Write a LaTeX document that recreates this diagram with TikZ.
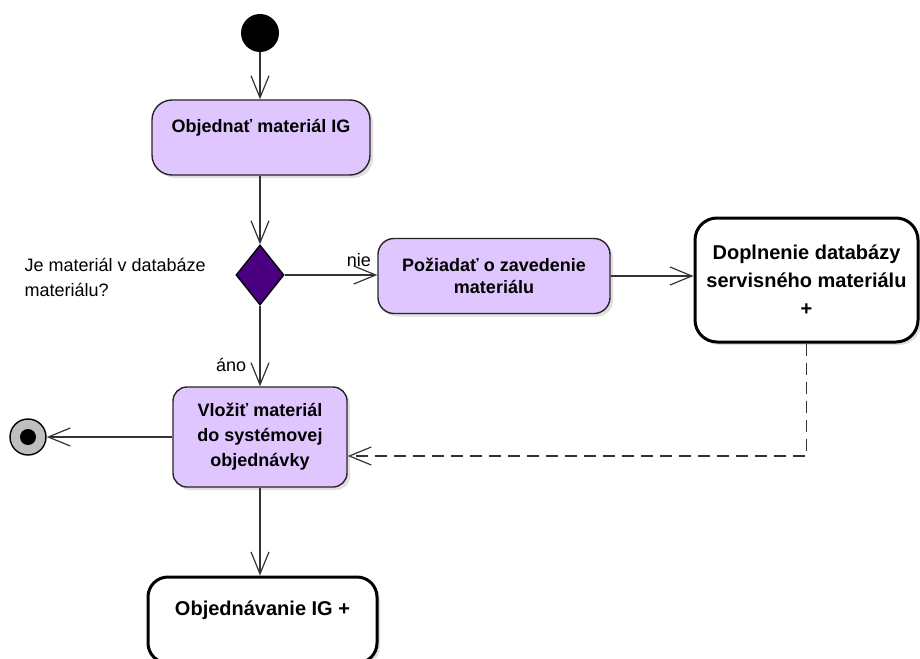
\documentclass[tikz,border=0pt]{standalone}
\usepackage{fontspec}
\setmainfont{Liberation Sans}
\usetikzlibrary{arrows.meta,shapes.geometric,shadows}
\definecolor{actfill}{RGB}{224,198,255}
\definecolor{decfill}{RGB}{75,0,130}
\begin{document}
\begin{tikzpicture}[x=1pt, y=-1pt,
  act/.style={rectangle, draw=black!85, line width=1.4pt, fill=actfill, rounded corners=16pt, align=center, font=\fontsize{18}{23}\selectfont\bfseries, drop shadow={shadow xshift=3pt, shadow yshift=-3pt, opacity=0.25}},
  sub/.style={rectangle, draw=black, line width=3pt, fill=white, rounded corners=22pt, align=center, font=\fontsize{20}{24}\selectfont\bfseries, drop shadow={shadow xshift=3pt, shadow yshift=-3pt, opacity=0.25}},
  decision/.style={diamond, draw=black, line width=1.4pt, fill=decfill, minimum width=48pt, minimum height=60pt, inner sep=0pt},
  flow/.style={-{Straight Barb[length=22pt, width=18pt]}, line width=1.2pt, draw=black!80},
  lbl/.style={font=\fontsize{18}{25}\selectfont, align=left}
]
  \useasboundingbox (0,0) rectangle (920,658);
  \clip (0,0) rectangle (920,658);

  \node[circle, fill=black, minimum size=38pt, inner sep=0pt] (start) at (260,33) {};
  \node[act, minimum width=218pt, minimum height=75pt, rounded corners=20pt] (order) at (261,137.5) {Objednať materiál IG\\\mbox{}};
  \node[decision] (check) at (260,275) {};
  \node[lbl, anchor=west] (question) at (21,277) {Je materiál v databáze\\materiálu?};
  \node[act, minimum width=232pt, minimum height=75pt, font=\fontsize{18}{22}\selectfont\bfseries] (ask) at (494,276) {Požiadať o zavedenie\\materiálu};
  \node[sub, minimum width=223pt, minimum height=124pt, font=\fontsize{20}{28}\selectfont\bfseries] (supply) at (806.5,280) {Doplnenie databázy\\servisného materiálu\\+};
  \node[act, minimum width=174pt, minimum height=100pt, rounded corners=14pt, font=\fontsize{18}{25}\selectfont\bfseries] (insert) at (260,437) {Vložiť materiál\\do systémovej\\objednávky};
  \node[circle, draw=black, line width=1.4pt, fill=black!25, minimum size=36pt, inner sep=0pt] (stop) at (28,437) {};
  \fill (stop.center) circle (8pt);
  \node[sub, minimum width=229pt, minimum height=86pt, rounded corners=20pt] (ordering) at (262.5,620) {Objednávanie IG +\\\mbox{}};

  % main flow
  \draw[flow] (start) -- (start |- order.north);
  \draw[flow] (order.south -| check) -- (check);
  \draw[flow] (check) -- (insert) node[pos=0.74, left=10pt, lbl] {áno};
  \draw[flow] (insert) -- (stop);
  \draw[flow] (insert.south) -- (insert.south |- ordering.north);

  % missing material
  \draw[flow] (check.east) -- (ask.west |- check.east) node[pos=0.8, above=4pt, lbl] {nie};
  \draw[flow] (ask.east) -- (ask.east -| supply.west);
  \draw[flow, dash pattern=on 12pt off 7pt] (supply.south) |- ([yshift=-19pt]insert.east);
\end{tikzpicture}
\end{document}
